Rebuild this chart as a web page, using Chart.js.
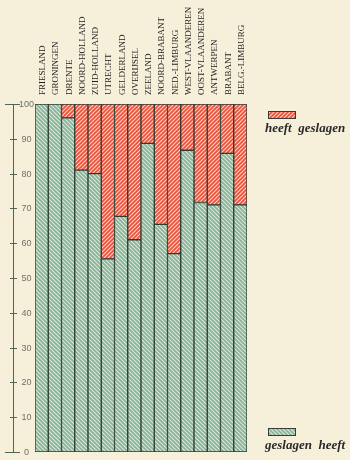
<!DOCTYPE html>
<html>
<head>
<meta charset="utf-8">
<script src="https://cdn.jsdelivr.net/npm/chart.js@4/dist/chart.umd.min.js"></script>
<style>
  html, body { margin: 0; padding: 0; background: #f6f0da; }
  #wrap { width: 350px; height: 460px; }
</style>
</head>
<body>
<div id="wrap"><canvas id="chart" width="350" height="460"></canvas></div>
<script>
const provinces = ['FRIESLAND', 'GRONINGEN', 'DRENTE', 'NOORD-HOLLAND', 'ZUID-HOLLAND',
  'UTRECHT', 'GELDERLAND', 'OVERIJSEL', 'ZEELAND', 'NOORD-BRABANT', 'NED.-LIMBURG',
  'WEST-VLAANDEREN', 'OOST-VLAANDEREN', 'ANTWERPEN', 'BRABANT', 'BELG.-LIMBURG'];
const geslagenHeeft = [100, 100, 96, 81, 80, 55.5, 67.7, 61, 88.7, 65.4, 57, 86.7, 71.7, 71, 85.8, 71];
const heeftGeslagen = [0, 0, 4, 19, 20, 44.5, 32.3, 39, 11.3, 34.6, 43, 13.3, 28.3, 29, 14.2, 29];
const yTicks = [0, 10, 20, 30, 40, 50, 60, 70, 80, 90, 100];

function hatch(base, line, forward) {
  const c = document.createElement('canvas');
  c.width = 4; c.height = 4;
  const x = c.getContext('2d');
  x.fillStyle = base;
  x.fillRect(0, 0, 4, 4);
  x.strokeStyle = line;
  x.lineWidth = 1.8;
  x.beginPath();
  if (forward) {
    x.moveTo(-1, 5); x.lineTo(5, -1);
    x.moveTo(-1, 1); x.lineTo(1, -1);
    x.moveTo(3, 5); x.lineTo(5, 3);
  } else {
    x.moveTo(-1, -1); x.lineTo(5, 5);
    x.moveTo(-1, 3); x.lineTo(1, 5);
    x.moveTo(3, -1); x.lineTo(5, 1);
  }
  x.stroke();
  return x.createPattern(c, 'repeat');
}
const ctx = document.getElementById('chart').getContext('2d');
const greenFill = hatch('#e0e9d8', '#84b49b', false);
const redFill = hatch('#f8dcc8', '#ea523e', true);

const yAxisPlugin = {
  id: 'yAxisLeft',
  afterDraw(chart) {
    const y = chart.scales.y;
    const c = chart.ctx;
    c.save();
    c.strokeStyle = '#52635a';
    c.lineWidth = 1;
    c.beginPath();
    c.moveTo(13.5, y.getPixelForValue(100));
    c.lineTo(13.5, y.getPixelForValue(0));
    c.stroke();
    c.font = '9px "Liberation Sans"';
    c.fillStyle = '#707066';
    c.textAlign = 'center';
    c.textBaseline = 'middle';
    yTicks.forEach(v => {
      const py = Math.round(y.getPixelForValue(v)) + 0.5;
      const long = v === 0 || v === 100;
      c.beginPath();
      c.moveTo(long ? 5 : 10, py);
      c.lineTo(long ? 20 : 17, py);
      c.stroke();
      c.fillText(String(v), 26.5, py);
    });
    c.restore();
  }
};

const legendPlugin = {
  id: 'sideLegend',
  afterDraw(chart) {
    const c = chart.ctx;
    c.save();
    c.font = 'italic bold 13px "Liberation Serif"';
    c.textBaseline = 'alphabetic';
    const items = [
      { fill: redFill, y: 111, text: 'heeft  geslagen', ty: 132 },
      { fill: greenFill, y: 428, text: 'geslagen  heeft', ty: 449 }
    ];
    items.forEach(it => {
      c.fillStyle = it.fill;
      c.fillRect(268, it.y, 27, 7);
      c.strokeStyle = '#3a3a3a';
      c.lineWidth = 1;
      c.strokeRect(268.5, it.y + 0.5, 27, 7);
      c.fillStyle = '#2a2a2a';
      c.fillText(it.text, 265, it.ty);
    });
    c.restore();
  }
};

new Chart(ctx, {
  type: 'bar',
  data: {
    labels: provinces,
    datasets: [
      {
        label: 'geslagen heeft',
        data: geslagenHeeft,
        backgroundColor: greenFill,
        borderColor: '#2e3a33',
        borderWidth: 1,
        borderSkipped: false
      },
      {
        label: 'heeft geslagen',
        data: heeftGeslagen,
        backgroundColor: redFill,
        borderColor: '#2e3a33',
        borderWidth: 1,
        borderSkipped: false
      }
    ]
  },
  options: {
    responsive: false,
    animation: false,
    events: [],
    datasets: { bar: { categoryPercentage: 1, barPercentage: 1 } },
    layout: { padding: { left: 35, right: 103, bottom: 8, top: 0 } },
    plugins: { legend: { display: false }, tooltip: { enabled: false } },
    scales: {
      x: {
        stacked: true,
        position: 'top',
        grid: { display: false },
        border: { display: false },
        afterFit: s => { s.height = 104; },
        ticks: {
          minRotation: 90,
          maxRotation: 90,
          autoSkip: false,
          padding: 1,
          labelOffset: 12,
          color: '#222',
          font: { family: '"Liberation Serif"', size: 9 }
        }
      },
      y: {
        stacked: true,
        display: false,
        min: 0,
        max: 100
      }
    }
  },
  plugins: [yAxisPlugin, legendPlugin]
});
</script>
</body>
</html>
